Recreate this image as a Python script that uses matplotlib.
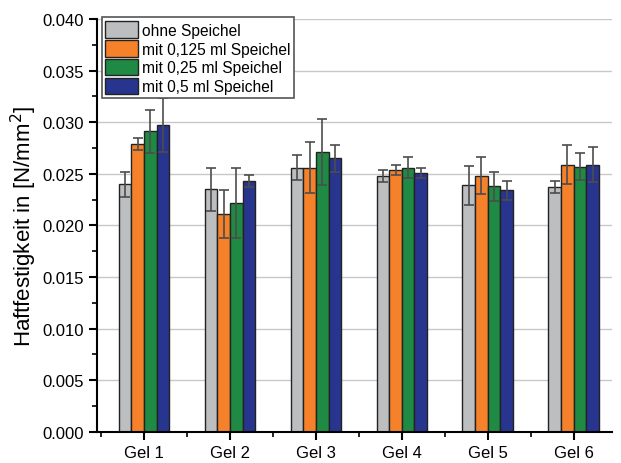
import numpy as np
import matplotlib.pyplot as plt
from matplotlib.ticker import MultipleLocator

plt.rcParams['font.family'] = ['Liberation Sans', 'DejaVu Sans']

gels = ['Gel 1', 'Gel 2', 'Gel 3', 'Gel 4', 'Gel 5', 'Gel 6']
series = ['ohne Speichel', 'mit 0,125 ml Speichel', 'mit 0,25 ml Speichel', 'mit 0,5 ml Speichel']
colors = ['#bdbebf', '#f5822a', '#1f8a43', '#27358f']

ohne = [0.0240, 0.0235, 0.0256, 0.0248, 0.0239, 0.0237]
ohne_err = [0.0012, 0.0021, 0.0012, 0.0006, 0.0019, 0.0006]
mit_0125 = [0.0279, 0.0211, 0.0256, 0.0254, 0.0248, 0.0259]
mit_0125_err = [0.0006, 0.0023, 0.0025, 0.0005, 0.0018, 0.0019]
mit_025 = [0.0291, 0.0222, 0.0271, 0.0256, 0.0238, 0.0257]
mit_025_err = [0.0021, 0.0034, 0.0032, 0.0010, 0.0014, 0.0013]
mit_05 = [0.0297, 0.0243, 0.0265, 0.0251, 0.0234, 0.0259]
mit_05_err = [0.0026, 0.0006, 0.0013, 0.0005, 0.0009, 0.0017]

values = [ohne, mit_0125, mit_025, mit_05]
errors = [ohne_err, mit_0125_err, mit_025_err, mit_05_err]

fig = plt.figure(figsize=(6.21, 4.64), dpi=100)
ax = fig.add_axes([0.156, 0.067, 0.830, 0.890])

x = np.arange(1, len(gels) + 1)
w = 0.147
for i, (name, vals, errs, c) in enumerate(zip(series, values, errors, colors)):
    pos = x + (i - 1.5) * w
    ax.bar(pos, vals, width=w, color=c, edgecolor='#222222', linewidth=1.0,
           label=name, zorder=2)
    ax.errorbar(pos, vals, yerr=errs, fmt='none', ecolor='#4d4d4d',
                elinewidth=1.2, capsize=3.5, capthick=1.2, zorder=3)

ax.set_xlim(0.45, 6.45)
ax.set_ylim(0, 0.040)
ax.yaxis.set_major_locator(MultipleLocator(0.005))
ax.yaxis.set_minor_locator(MultipleLocator(0.0025))
ax.set_xticks(x)
ax.set_xticklabels(gels)
ax.xaxis.set_minor_locator(MultipleLocator(0.5))
ax.set_yticklabels([f'{v:.3f}' for v in ax.get_yticks()])
ax.grid(axis='y', color='#c8c8c8', linewidth=1.0, zorder=0)
ax.set_axisbelow(True)

for s in ['top', 'right']:
    ax.spines[s].set_visible(False)
for s in ['left', 'bottom']:
    ax.spines[s].set_linewidth(1.5)
ax.tick_params(axis='both', which='major', direction='out', length=6, width=1.5, labelsize=12)
ax.tick_params(axis='both', which='minor', direction='out', length=3.5, width=1.2)

ax.set_ylabel('Haftfestigkeit in [N/mm$^2$]', fontsize=16, labelpad=2)

leg = ax.legend(loc='upper left', bbox_to_anchor=(0.0, 1.015), fontsize=11.2,
                handlelength=2.1, handleheight=1.25, handletextpad=0.25,
                labelspacing=0.15, borderpad=0.25, borderaxespad=0.3,
                fancybox=False, framealpha=1.0)
leg.get_frame().set_edgecolor('#555555')
leg.get_frame().set_linewidth(1.2)

fig.savefig('out.png', dpi=100)
